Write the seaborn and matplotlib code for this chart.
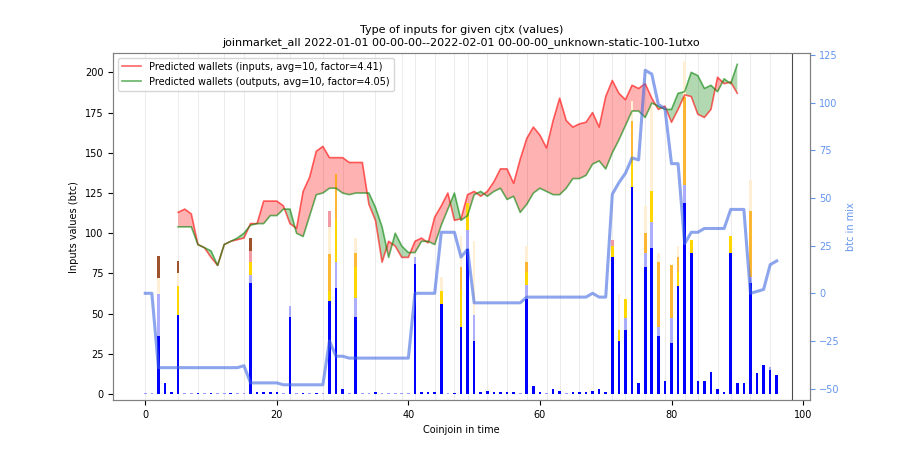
import numpy as np
import pandas as pd
import matplotlib
matplotlib.use("Agg")
import matplotlib.pyplot as plt
import seaborn as sns

# ---- data ----
idx_wallets = list(range(5, 91))
inputs_pred = [113,115,112,93,91,85,80,93,95,96,97,106,106,120,120,120,117,106,103,126,135,151,154,147,147,147,144,144,144,118,108,82,95,92,85,85,95,97,94,110,117,125,108,109,124,126,123,126,132,140,140,131,146,159,166,161,153,170,184,170,166,168,169,175,166,185,195,187,183,192,190,193,184,177,179,169,177,186,185,174,172,177,197,193,194,187]
outputs_pred = [104,104,104,93,91,89,80,93,95,97,100,105,106,106,111,111,115,115,100,98,111,124,125,128,128,125,124,125,125,125,116,104,85,100,92,88,88,95,95,93,105,115,125,108,111,124,126,123,126,128,121,123,113,118,125,128,126,124,124,128,134,134,136,143,145,140,150,158,167,176,176,172,181,179,177,177,187,188,200,198,190,192,188,196,193,205,196]
outputs_pred = outputs_pred[:len(idx_wallets)]

idx_mix = list(range(0, 97))
btc_in_mix = [0,0,-39,-39,-39,-39,-39,-39,-39,-39,-39,-39,-39,-39,-39,-38,-47,-47,-47,-47,-47,-48,-48,-48,-48,-48,-48,-48,-25,-33,-33,-34,-34,-34,-34,-34,-34,-34,-34,-34,-34,0,0,0,0,32,32,32,19,23,-5,-5,-5,-5,-5,-5,-5,-5,-2,-2,-2,-2,-2,-2,-2,-2,-2,-2,0,-2,-2,52,58,63,71,70,117,115,99,97,68,68,26,32,32,34,34,34,34,44,44,44,0,1,2,15,17]

bar_x = [2,3,4,5,8,10,13,16,17,18,19,20,22,24,26,28,29,30,32,35,41,42,43,44,45,47,48,49,50,51,52,53,54,55,56,58,59,60,62,63,65,66,67,68,69,70,71,72,73,74,75,76,77,78,79,80,81,82,83,84,85,86,87,88,89,90,91,92,93,94,95,96]
bar_blue = [36,7,1,49,0.5,0.5,0.5,69,1,1,1,1,48,0.5,0.5,58,66,3,48,1,81,1,1,1,56,0.5,42,90,33,1,2,1,1,1,1,59,5,1,3,2,1,1,1,2,3,1,85,33,40,129,7,79,91,36,8,32,67,119,88,8,8,14,3,1,88,7,7,69,13,18,15,12]
seg_order = ["lightblue", "gold", "orange", "papayawhip", "pink", "sienna"]
seg = {
    2:  {"lightblue":26,"papayawhip":10,"sienna":14},
    5:  {"gold":18,"papayawhip":8,"sienna":8},
    16: {"lightblue":5,"gold":8,"pink":7,"sienna":8},
    22: {"lightblue":7},
    28: {"gold":6,"orange":23,"papayawhip":17,"pink":10},
    29: {"lightblue":16,"gold":26,"orange":29},
    32: {"lightblue":12,"gold":19,"orange":9,"papayawhip":9},
    41: {"lightblue":4},
    45: {"gold":8,"papayawhip":9},
    48: {"gold":23,"orange":14,"papayawhip":19},
    49: {"lightblue":12,"gold":17},
    50: {"lightblue":16,"papayawhip":46},
    58: {"lightblue":9,"gold":8,"orange":6,"papayawhip":10},
    71: {"gold":7,"pink":4},
    72: {"gold":7,"papayawhip":22},
    73: {"lightblue":7,"gold":12},
    74: {"gold":19,"papayawhip":12,"orange":22},
    76: {"lightblue":9,"orange":12,"papayawhip":17},
    77: {"lightblue":16,"gold":19,"papayawhip":53},
    78: {"lightblue":6,"orange":40,"papayawhip":6},
    80: {"lightblue":15,"orange":33},
    81: {"gold":9,"orange":9,"papayawhip":7},
    82: {"lightblue":11,"orange":55,"papayawhip":22},
    83: {"gold":8},
    89: {"gold":10},
    92: {"lightblue":4,"orange":41,"papayawhip":19},
    95: {"lightblue":2},
}
grid_x = [0,5,8,12,15,20,22,27,30,35,39,41,44,47,49,52,55,58,61,63,66,68,71,73,76,79,82,84,87,89,92,95]
end_marker = 98.3

seg_colors = {"lightblue": (0.55,0.55,1.0,0.7), "gold": "gold", "orange": (1.0,0.65,0.0,0.8),
              "papayawhip": "papayawhip", "pink": (0.95,0.6,0.65), "sienna": "sienna"}

# ---- plot ----
fig = plt.figure(figsize=(9, 4.5), dpi=100)
ax = fig.add_axes([0.1256, 0.111, 0.774, 0.771])
ax2 = ax.twinx()

for gx in grid_x:
    ax.axvline(gx, color="lightgray", lw=0.6, alpha=0.5, zorder=0)
ax.axvline(end_marker, color="black", lw=0.8, alpha=0.7, zorder=1)

# bars
ax.bar(bar_x, bar_blue, width=0.4, color="blue", zorder=2)
for x, b in zip(bar_x, bar_blue):
    if x in seg:
        bottom = b
        for k in seg_order:
            if k in seg[x]:
                ax.bar([x], [seg[x][k]], bottom=bottom, width=0.4, color=seg_colors[k], zorder=2)
                bottom += seg[x][k]
tiny = [i for i in range(0, 97) if i not in bar_x]
ax.bar(tiny, [0.5]*len(tiny), width=0.4, color=(0.6,0.6,1.0), zorder=2)

dfw = pd.DataFrame({"x": idx_wallets, "inp": inputs_pred, "out": outputs_pred})
inp = np.array(inputs_pred); out = np.array(outputs_pred)
ax.fill_between(idx_wallets, inp, out, where=inp >= out, interpolate=True, color="red", alpha=0.3, lw=0)
ax.fill_between(idx_wallets, inp, out, where=out >= inp, interpolate=True, color="green", alpha=0.3, lw=0)
sns.lineplot(data=dfw, x="x", y="inp", ax=ax, color="red", alpha=0.6, lw=1.2,
             label="Predicted wallets (inputs, avg=10, factor=4.41)")
sns.lineplot(data=dfw, x="x", y="out", ax=ax, color="green", alpha=0.6, lw=1.2,
             label="Predicted wallets (outputs, avg=10, factor=4.05)")

dfm = pd.DataFrame({"x": idx_mix, "btc": btc_in_mix})
sns.lineplot(data=dfm, x="x", y="btc", ax=ax2, color="royalblue", alpha=0.6, lw=2.2)

for a in (ax, ax2):
    for s in a.spines.values():
        s.set_color("gray")
ax.set_xlim(-4.9, 101)
ax.set_ylim(-3.7, 212)
ax2.set_ylim(-56, 126)
ax.set_xticks([0, 20, 40, 60, 80, 100])
ax.set_yticks(range(0, 201, 25))
ax2.set_yticks(range(-50, 126, 25))
ax.tick_params(labelsize=7)
ax2.tick_params(labelsize=7, colors="cornflowerblue")
ax.set_xlabel("Coinjoin in time", fontsize=7)
ax.set_ylabel("Inputs values (btc)", fontsize=7)
ax2.set_ylabel("btc in mix", fontsize=7, color="cornflowerblue")
ax.set_title("Type of inputs for given cjtx (values)\njoinmarket_all 2022-01-01 00-00-00--2022-02-01 00-00-00_unknown-static-100-1utxo",
             fontsize=8)
ax.legend(loc="upper left", fontsize=7)
fig.savefig("out.png", dpi=100)
